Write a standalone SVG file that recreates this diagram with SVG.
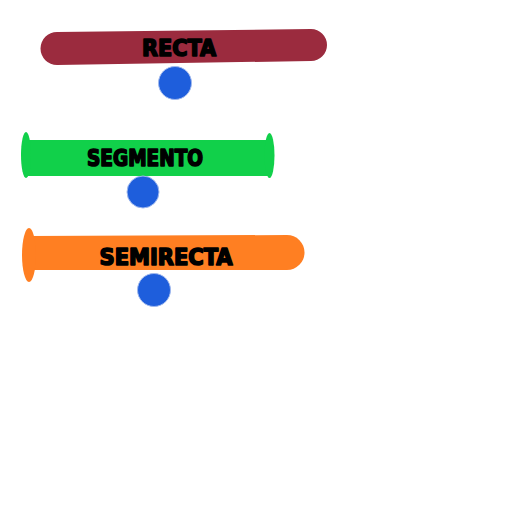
<svg xmlns="http://www.w3.org/2000/svg" width="512" height="512" viewBox="0 0 512 512">
<style>
.lbl{font-family:"DejaVu Sans Condensed","DejaVu Sans",sans-serif;font-weight:bold;font-size:23px;fill:#000;text-anchor:middle;stroke:#000;stroke-width:1.6;stroke-linejoin:round}
.dot{fill:#1E5EDC;stroke:#9fb8ee;stroke-width:1}
</style>
<rect width="512" height="512" fill="#fff"/>
<g id="recta">
<path d="M57,32 L311,29 A16,16 0 0 1 311,61 L57,65 A16.5,16.5 0 0 1 57,32 Z" fill="#9B2B3E"/>
<text class="lbl" x="179" y="56" textLength="74" lengthAdjust="spacingAndGlyphs">RECTA</text>
</g>
<g id="punto1"><circle class="dot" cx="175" cy="83" r="16.5"/></g>
<g id="segmento">
<rect x="26" y="140" width="244" height="36" fill="#11D04A"/>
<ellipse cx="26" cy="155" rx="5" ry="23" fill="#11D04A"/>
<ellipse cx="269.5" cy="155.5" rx="5" ry="22.5" fill="#11D04A"/>
<text class="lbl" x="145" y="166" textLength="116" lengthAdjust="spacingAndGlyphs">SEGMENTO</text>
</g>
<g id="punto2"><circle class="dot" cx="143" cy="192" r="16"/></g>
<g id="semirecta">
<path d="M30,236 L287,235 A17.5,17.5 0 0 1 287,270 L30,270 Z" fill="#FF7F22"/>
<ellipse cx="29" cy="255" rx="7" ry="27" fill="#FF7F22"/>
<text class="lbl" x="166" y="265" textLength="133" lengthAdjust="spacingAndGlyphs">SEMIRECTA</text>
</g>
<g id="punto3"><circle class="dot" cx="154" cy="290" r="16.5"/></g>
</svg>
